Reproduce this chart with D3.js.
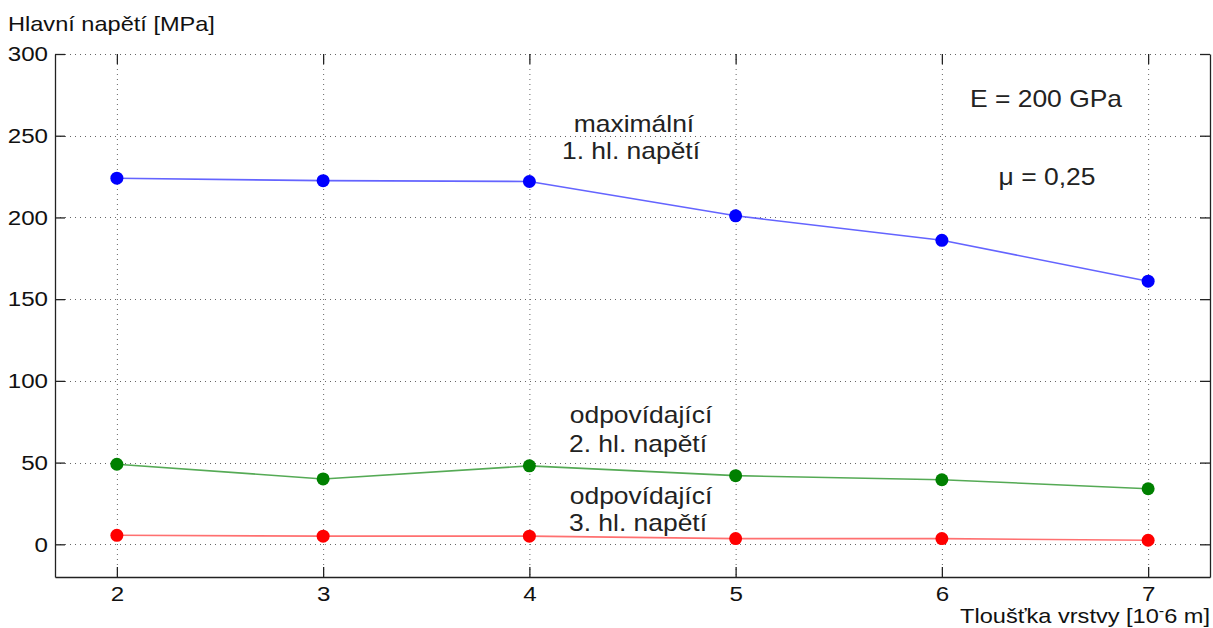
<!DOCTYPE html>
<html>
<head>
<meta charset="utf-8">
<script src="https://cdn.jsdelivr.net/npm/d3@7"></script>
<style>
  html, body { margin: 0; padding: 0; background: #fff; }
  svg { display: block; font-family: "Liberation Sans", Arial, sans-serif; }
</style>
</head>
<body>
<svg id="chart" width="1213" height="628"></svg>
<script>
// Layer thickness [10^-6 m]
const thickness = [2, 3, 4, 5, 6, 7];
// Principal stresses [MPa]
const sigma1 = [224, 222.5, 222, 201, 186, 161];
const sigma2 = [49, 40, 48, 42, 39.5, 34];
const sigma3 = [5.5, 5, 5, 3.5, 3.5, 2.5];
const xTicks = [2, 3, 4, 5, 6, 7];
const yTicks = [0, 50, 100, 150, 200, 250, 300];

const svg = d3.select("#chart");
const L = 55, R = 1210, T = 54, B = 577;
const SX = 1.15; // horizontal stretch of the lettering

const x = d3.scaleLinear().domain([1.7, 7.3]).range([L, R]);
const y = d3.scaleLinear().domain([-20, 300]).range([B, T]);

// dotted grid
const grid = svg.append("g").attr("stroke", "#666").attr("stroke-width", 1)
  .attr("stroke-dasharray", "1,4");
grid.selectAll(".gx").data(xTicks).join("line")
  .attr("x1", d => x(d) + 0.5).attr("x2", d => x(d) + 0.5)
  .attr("y1", T).attr("y2", B);
grid.selectAll(".gy").data(yTicks).join("line")
  .attr("x1", L).attr("x2", R)
  .attr("y1", d => Math.round(y(d)) + 0.5).attr("y2", d => Math.round(y(d)) + 0.5);

// axes with ticks on all four sides
const tickLen = 10;
const axisBottom = d3.axisBottom(x).tickValues(xTicks).tickFormat(d3.format("d"))
  .tickSizeInner(-tickLen).tickSizeOuter(0).tickPadding(9);
const axisTop = d3.axisTop(x).tickValues(xTicks).tickSizeInner(-tickLen).tickSizeOuter(0).tickFormat("");
const axisLeft = d3.axisLeft(y).tickValues(yTicks).tickFormat(d3.format("d"))
  .tickSizeInner(-tickLen).tickSizeOuter(0).tickPadding(0);
const axisRight = d3.axisRight(y).tickValues(yTicks).tickSizeInner(-tickLen).tickSizeOuter(0).tickFormat("");

function styleAxis(g, showDomain) {
  g.select(".domain").attr("stroke", "#222").attr("stroke-width", 1.3)
    .style("display", showDomain ? null : "none");
  g.selectAll(".tick line").attr("stroke", "#222").attr("stroke-width", 1.3);
  g.selectAll(".tick text").attr("fill", "#111").style("font-size", "21px")
    .style("font-family", "'Liberation Sans', Arial, sans-serif");
}

svg.append("g").attr("transform", `translate(0,${B})`).call(axisBottom)
  .call(g => styleAxis(g, true))
  .call(g => g.selectAll(".tick text").attr("transform", `scale(${SX},1)`));
svg.append("g").attr("transform", `translate(0,${T})`).call(axisTop).call(g => styleAxis(g, false));
svg.append("g").attr("transform", `translate(${L},0)`).call(axisLeft)
  .call(g => styleAxis(g, true))
  .call(g => g.selectAll(".tick text").attr("x", 0).attr("transform", `translate(-7,0) scale(${SX},1)`));
svg.append("g").attr("transform", `translate(${R},0)`).call(axisRight).call(g => styleAxis(g, true));

// series
const series = [
  { values: sigma1, line: "#6464ff", dot: "#0000ff" },
  { values: sigma2, line: "#55aa55", dot: "#008000" },
  { values: sigma3, line: "#ff7070", dot: "#ff0000" }
];
const line = d3.line().x((d, i) => x(thickness[i])).y(d => y(d));
series.forEach(s => {
  svg.append("path").datum(s.values).attr("d", line)
    .attr("fill", "none").attr("stroke", s.line).attr("stroke-width", 1.6);
  svg.append("g").selectAll("circle").data(s.values).join("circle")
    .attr("cx", (d, i) => x(thickness[i])).attr("cy", d => y(d))
    .attr("r", 6.5).attr("fill", s.dot);
});

// annotations
const notes = [
  { t: "maximální", cx: 634, by: 132 },
  { t: "1. hl. napětí", cx: 631, by: 159 },
  { t: "odpovídající", cx: 641, by: 423 },
  { t: "2. hl. napětí", cx: 638, by: 452 },
  { t: "odpovídající", cx: 641, by: 504 },
  { t: "3. hl. napětí", cx: 638, by: 531 },
  { t: "E = 200 GPa", cx: 1046, by: 107 },
  { t: "μ = 0,25", cx: 1047, by: 185 }
];
svg.append("g").selectAll("text").data(notes).join("text")
  .attr("transform", d => `translate(${d.cx},${d.by}) scale(${SX},1)`)
  .attr("text-anchor", "middle").attr("fill", "#222")
  .style("font-size", "23px").text(d => d.t);

// axis titles
svg.append("text").attr("transform", `translate(8,31) scale(${SX},1)`).attr("fill", "#111")
  .style("font-size", "20.5px").text("Hlavní napětí [MPa]");
const xt = svg.append("text").attr("transform", `translate(1210,623) scale(${SX},1)`)
  .attr("fill", "#111").attr("text-anchor", "end").style("font-size", "20.5px");
xt.append("tspan").text("Tloušťka vrstvy [10");
xt.append("tspan").attr("dy", -7).style("font-size", "14px").text("-");
xt.append("tspan").attr("dy", 7).text("6 m]");
</script>
</body>
</html>
